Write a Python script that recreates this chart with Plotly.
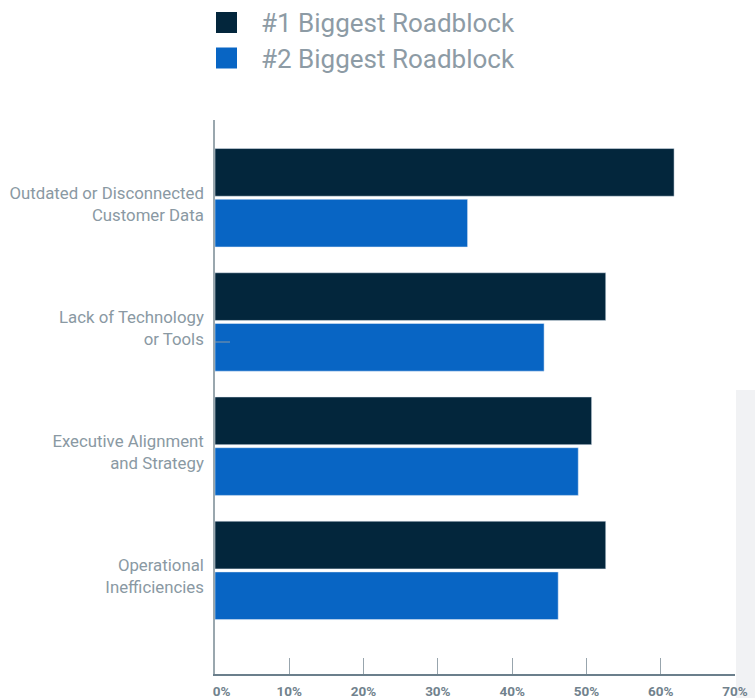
import plotly.graph_objects as go

# Survey data: share of respondents naming each roadblock
categories = [
    "Outdated or Disconnected<br>Customer Data",
    "Lack of Technology<br>or Tools",
    "Executive Alignment<br>and Strategy",
    "Operational<br>Inefficiencies",
]
series_names = ["#1 Biggest Roadblock", "#2 Biggest Roadblock"]
first_roadblock = [61.8, 52.6, 50.7, 52.6]
second_roadblock = [34.0, 44.3, 48.9, 46.2]
tick_values = [0, 10, 20, 30, 40, 50, 60, 70]
tick_labels = ["\u00a0\u00a0\u00a0\u00a00%", "10%", "20%", "30%", "40%", "50%", "60%", "70%"]

DARK = "#03263c"
BLUE = "#0865c4"
LABEL_GRAY = "#8a99a3"

W, H = 755, 698
M_L, M_R, M_T, M_B = 215, 20, 120, 24
PW, PH = W - M_L - M_R, H - M_T - M_B


def px_x(x):
    return (x - M_L) / PW


def px_y(y):
    return (H - M_B - y) / PH


fig = go.Figure()
fig.add_trace(go.Bar(y=categories, x=first_roadblock, orientation="h",
                     name=series_names[0], marker_color=DARK, showlegend=False))
fig.add_trace(go.Bar(y=categories, x=second_roadblock, orientation="h",
                     name=series_names[1], marker_color=BLUE, showlegend=False))

# custom legend: colour squares plus labels above the plot
for i, (name, col) in enumerate(zip(series_names, [DARK, BLUE])):
    top = 12 + i * 35.5
    fig.add_shape(type="rect", xref="paper", yref="paper",
                  x0=px_x(216), x1=px_x(237), y0=px_y(top), y1=px_y(top + 21),
                  fillcolor=col, line_width=0)
    fig.add_annotation(xref="paper", yref="paper", x=px_x(259), y=px_y(top + 11.5),
                       text=name, showarrow=False, xanchor="left", yanchor="middle",
                       font=dict(family="Roboto", size=26, color="#8d9ba5"))

# light panel at the right edge
fig.add_shape(type="rect", xref="paper", yref="paper", layer="below",
              x0=px_x(736), x1=px_x(760), y0=px_y(390), y1=px_y(705),
              fillcolor="#f1f2f4", line_width=0)
# short stub line beside the second category
fig.add_shape(type="line", xref="paper", yref="paper",
              x0=px_x(215), x1=px_x(230), y0=px_y(342), y1=px_y(342),
              line=dict(color="#8a99a3", width=1))

fig.update_layout(
    width=W, height=H,
    margin=dict(l=M_L, r=M_R, t=M_T, b=M_B),
    paper_bgcolor="white", plot_bgcolor="white",
    barmode="group", bargap=0.183, bargroupgap=0.06,
    font=dict(family="Roboto"),
    xaxis=dict(range=[0, 70], tickvals=tick_values, ticktext=tick_labels,
               showgrid=False, zeroline=False, showline=True, automargin=False,
               linecolor="#6b7f8c", linewidth=1.5,
               ticks="inside", ticklen=16, tickcolor="#98a5ad", tickwidth=1,
               tickfont=dict(family="Roboto", size=13.5, color="#71828d", weight="bold"),
               ticklabelstandoff=4, fixedrange=True),
    yaxis=dict(range=[3.834, -0.626], showgrid=False, zeroline=False,
               showline=True, automargin=False,
               linecolor="#9aa7ae", linewidth=1.5, ticks="",
               tickfont=dict(family="Roboto", size=16.8, color=LABEL_GRAY),
               ticklabelstandoff=6, ticklabelshift=-6, fixedrange=True),
)

fig.write_html("out.html")
